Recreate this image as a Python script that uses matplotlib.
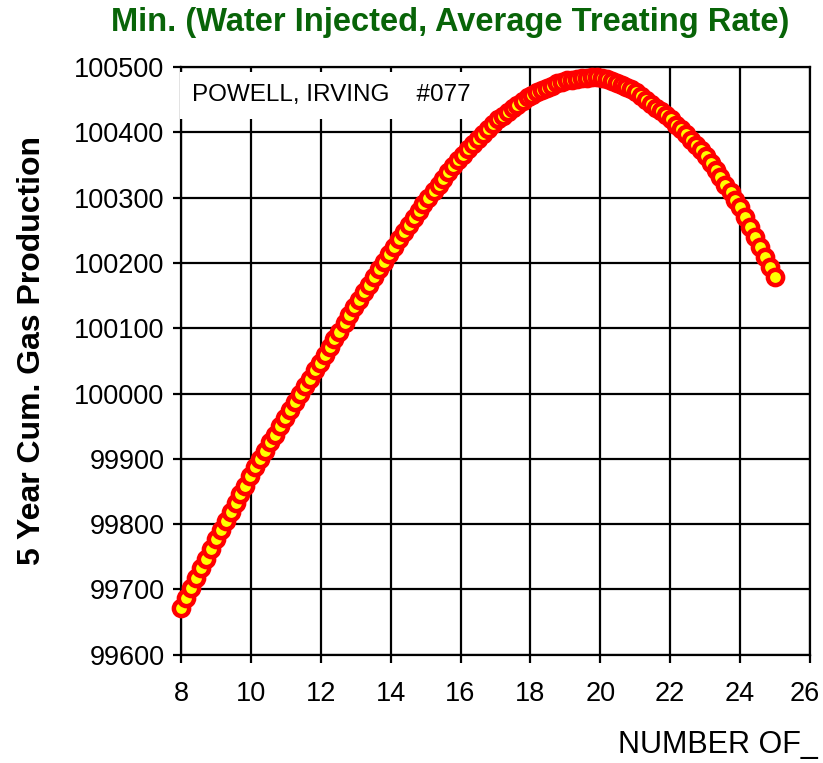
"""Scatter of 5 year cumulative gas production vs number of stages"""

import matplotlib
matplotlib.use("Agg")
import matplotlib.pyplot as plt
from matplotlib.transforms import ScaledTranslation

# values
stages = [
    8.00, 8.14, 8.28, 8.43, 8.57, 8.71, 8.85, 8.99, 9.13, 9.28,
    9.42, 9.56, 9.70, 9.84, 9.98, 10.13, 10.27, 10.41, 10.55, 10.69,
    10.83, 10.98, 11.12, 11.26, 11.40, 11.54, 11.68, 11.83, 11.97, 12.11,
    12.25, 12.39, 12.53, 12.68, 12.82, 12.96, 13.10, 13.24, 13.38, 13.53,
    13.67, 13.81, 13.95, 14.09, 14.23, 14.38, 14.52, 14.66, 14.80, 14.94,
    15.08, 15.23, 15.37, 15.51, 15.65, 15.79, 15.93, 16.08, 16.22, 16.36,
    16.50, 16.64, 16.78, 16.93, 17.07, 17.21, 17.35, 17.49, 17.63, 17.78,
    17.92, 18.06, 18.20, 18.34, 18.48, 18.63, 18.77, 18.91, 19.05, 19.19,
    19.33, 19.48, 19.62, 19.76, 19.90, 20.04, 20.18, 20.33, 20.47, 20.61,
    20.75, 20.89, 21.03, 21.18, 21.32, 21.46, 21.60, 21.74, 21.88, 22.03,
    22.17, 22.31, 22.45, 22.59, 22.73, 22.88, 23.02, 23.16, 23.30, 23.44,
    23.58, 23.73, 23.87, 24.01, 24.15, 24.29, 24.43, 24.58, 24.72, 24.86,
    25.00,
]
gas_production = [
    99672, 99687, 99702, 99718, 99732, 99747, 99762, 99777, 99791, 99805,
    99819, 99832, 99846, 99859, 99873, 99887, 99899, 99912, 99925, 99937,
    99950, 99963, 99975, 99987, 99999, 100011, 100023, 100036, 100047, 100059,
    100071, 100083, 100095, 100108, 100120, 100132, 100143, 100155, 100167, 100179,
    100191, 100202, 100214, 100225, 100236, 100247, 100258, 100269, 100280, 100290,
    100300, 100310, 100320, 100329, 100339, 100348, 100357, 100366, 100374, 100382,
    100390, 100397, 100405, 100413, 100420, 100425, 100431, 100437, 100442, 100448,
    100454, 100458, 100462, 100465, 100468, 100471, 100475, 100478, 100480, 100481,
    100482, 100483, 100484, 100485, 100485, 100484, 100482, 100479, 100476, 100473,
    100470, 100466, 100462, 100456, 100450, 100444, 100438, 100433, 100427, 100420,
    100412, 100405, 100397, 100389, 100381, 100373, 100364, 100353, 100342, 100331,
    100320, 100308, 100296, 100285, 100270, 100255, 100240, 100224, 100209, 100194,
    100179,
]
x_ticks = [8, 10, 12, 14, 16, 18, 20, 22, 24, 26]
y_ticks = [99600, 99700, 99800, 99900, 100000, 100100, 100200, 100300, 100400, 100500]

title = "Min. (Water Injected, Average Treating Rate)"
ylabel = "5 Year Cum. Gas Production"
xlabel = "NUMBER OF_"
well_label = "POWELL, IRVING    #077"

plt.rcParams["font.family"] = ["Liberation Sans", "DejaVu Sans"]

fig = plt.figure(figsize=(8.23, 7.63), dpi=100)
ax = fig.add_axes([0.22, 0.142, 0.764, 0.770])

ax.plot(stages, gas_production, linestyle="none", marker="o", markersize=11,
        markerfacecolor="#ffff00", markeredgecolor="#ff0000",
        markeredgewidth=3.2, zorder=3, clip_on=False)

ax.set_xlim(8, 26)
ax.set_ylim(99600, 100500)
ax.set_xticks(x_ticks)
ax.set_yticks(y_ticks)
ax.grid(True, color="black", linewidth=1.6)
ax.set_axisbelow(True)
for spine in ax.spines.values():
    spine.set_linewidth(1.6)
ax.tick_params(direction="out", length=6, width=1.6, labelsize=19.5, pad=6)
ax.tick_params(axis="x", pad=13)

# last x label sits on the right edge, nudge it in a little
last = ax.get_xticklabels()[-1]
last.set_transform(last.get_transform() + ScaledTranslation(-4 / 72, 0, fig.dpi_scale_trans))

ax.text(0.018, 0.952, well_label, transform=ax.transAxes, fontsize=17.5,
        va="center", ha="left", zorder=4,
        bbox=dict(facecolor="white", edgecolor="none", pad=9))

fig.text(0.547, 0.971, title, ha="center", va="center", color="#086408",
         fontsize=23.5, fontweight="bold")
fig.text(0.039, 0.54, ylabel, ha="center", va="center", rotation=90,
         fontsize=23, fontweight="bold")
fig.text(0.994, 0.024, xlabel, ha="right", va="center", fontsize=22)

fig.savefig("out.png", dpi=100)
